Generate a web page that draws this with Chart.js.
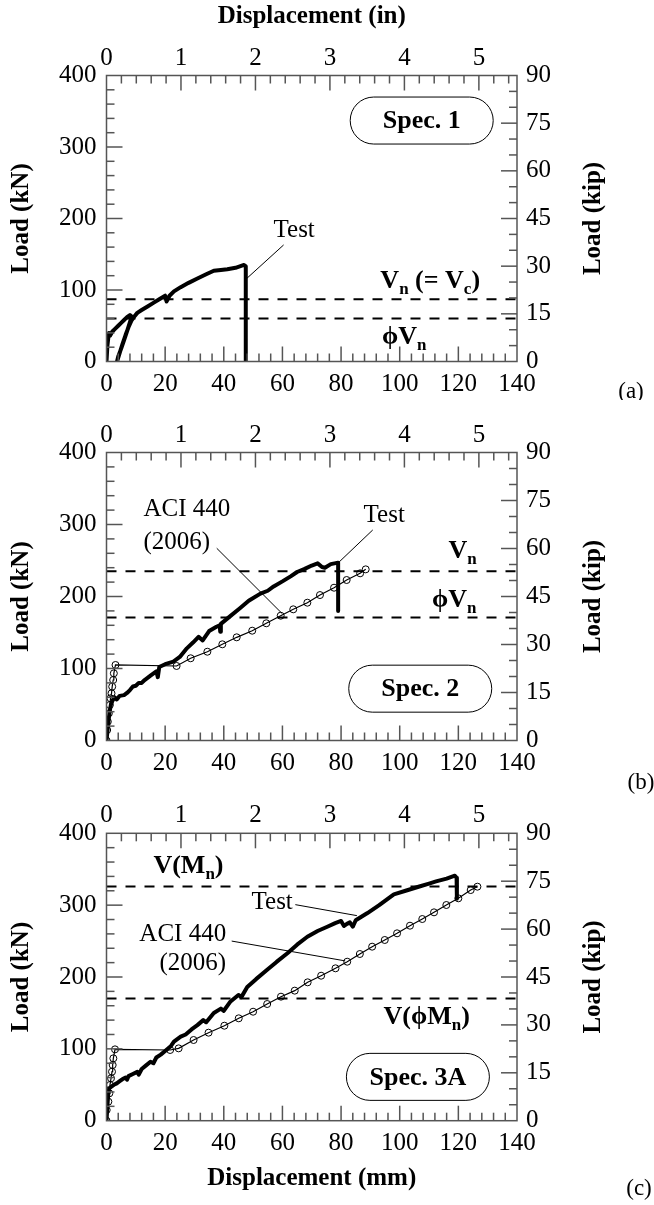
<!DOCTYPE html>
<html>
<head>
<meta charset="utf-8">
<script src="https://cdn.jsdelivr.net/npm/chart.js@4.4.1/dist/chart.umd.min.js"></script>
<style>
  body { margin: 0; background: #fff; }
  #wrap { position: relative; width: 654px; height: 1205px; }
  canvas { position: absolute; left: 0; }
</style>
</head>
<body>
<div id="wrap">
  <canvas id="chartA" width="654" height="400" style="top:0"></canvas>
  <canvas id="chartB" width="654" height="400" style="top:400px"></canvas>
  <canvas id="chartC" width="654" height="405" style="top:800px"></canvas>
</div>
<script>
// axis ranges / tick steps
const mmRange = [0, 140];
const knRange = [0, 400];
const kipRange = [0, 90];
const MM_PER_IN = 25.4;

// (a) Spec. 1
const aTestX = [0, 0.3, 0.8, 1.2, 2, 3, 4, 5, 6, 7, 8, 8.6, 8, 7, 6, 5, 4, 3.6, 4.5, 5.5, 6.5, 7.5, 8.5, 9.5, 10.5, 12, 14, 16, 18, 20, 20.5, 21.5, 23, 25.3, 28, 31, 34, 36.6, 39, 41.2, 44, 46.9, 47.5, 47.5];
const aTestY = [0, 22, 40, 36, 42, 46, 50, 54, 58, 62, 65, 63, 55, 42, 30, 18, 7, 0, 12, 25, 37, 48, 57, 63, 68, 72, 77, 82, 87, 92, 84, 92, 98, 104, 110, 116, 122, 127, 128, 129, 131, 135, 133, 0];
const aLevels = [87, 60];

// (b) Spec. 2
const bTestX = [0, 0.5, 1, 1.5, 2, 2.7, 3.5, 4.5, 6, 7, 8, 9, 10, 11, 12, 13, 15, 17, 17.5, 18, 20, 22.8, 25, 27.4, 29.5, 31.4, 32.8, 35, 37.5, 38.6, 38.8, 39, 42, 45.6, 48.5, 52.5, 55, 57, 60, 62.8, 65, 67.4, 70, 72, 73.5, 74.5, 76.5, 79, 79];
const bTestY = [0, 20, 38, 50, 55, 60, 57, 62, 63, 66, 70, 75, 76, 80, 80, 84, 90, 96, 88, 102, 106, 109.5, 116, 128, 136, 144, 139, 152, 158, 160, 151, 162, 172, 184, 194, 204, 208, 214, 221, 228, 234, 238, 243, 246, 241, 240, 245, 247, 180];
const bAciX = [0, 0.23, 0.45, 0.8, 1.14, 1.37, 1.71, 1.94, 2.28, 2.5, 3.07, 23.9, 28.7, 34.4, 39.5, 44.4, 49.7, 54.5, 59.4, 63.7, 68.5, 72.8, 77.6, 81.9, 86.5, 88.4];
const bAciY = [0, 14.6, 26.2, 37.7, 49.3, 58.6, 65.5, 74.8, 84, 93.3, 104.9, 103.5, 114.2, 123.3, 133.6, 143.3, 152.5, 162.8, 173.3, 182.2, 191.4, 202, 212.2, 222.9, 232.2, 237.7];
const bLevels = [235, 171];

// (c) Spec. 3A
const cTestX = [0, 0.3, 0.6, 0.9, 1.5, 2.5, 3.5, 4.5, 5.5, 6.5, 7, 7.5, 9, 10.5, 11, 12, 13.5, 15, 16, 17, 18.5, 20, 22, 23, 25.3, 27, 29, 31, 33, 34, 36.6, 39, 40, 42.3, 45, 46, 48, 51, 54.8, 58, 61.7, 65, 68.5, 72, 75.3, 78, 80, 81, 82, 83, 84, 85, 89, 93, 98, 102, 106.7, 110, 112.4, 116, 118.8, 119.4, 119.5];
const cTestY = [0, 20, 38, 45, 47, 50, 52, 55, 58, 60, 57, 62, 65, 68, 64, 72, 77, 82, 80, 88, 92, 97, 104, 110, 117, 120, 127, 133, 140, 137, 150, 156, 153, 166, 175, 172, 186, 197, 210, 221, 233, 245, 256, 264, 270, 275, 278, 271, 274, 276, 270, 279, 289, 300, 315, 320, 326, 330, 333, 337, 341, 338, 309];
const cAciX = [0, 0.06, 0.63, 0.97, 1.19, 1.54, 1.88, 2.1, 2.33, 2.9, 21.7, 24.6, 29.7, 34.8, 40.2, 45.1, 50, 54.8, 59.5, 64.2, 68.6, 73.2, 78.1, 82.1, 86.4, 90.6, 94.9, 99.1, 103.5, 107.7, 111.7, 115.9, 120, 124.2, 126.5];
const cAciY = [0, 14.9, 26.5, 38.1, 49.7, 59, 68.2, 77.5, 86.8, 99.3, 98.4, 100.7, 112.3, 122.5, 132.2, 142.5, 151.7, 162.4, 172.6, 181, 192.6, 201.8, 212.1, 221.3, 232, 242.2, 251.5, 260.8, 271.4, 280.7, 290, 300.2, 309.5, 321, 325.7];
const cLevels = [326, 170];

const SERIF = '"Liberation Serif", "Times New Roman", Times, serif';

const pts = (xs, ys) => xs.map((x, i) => ({ x: x, y: ys[i] }));

const testSet = (xs, ys) => ({
    data: pts(xs, ys), showLine: true, borderColor: '#000', borderWidth: 4,
    pointRadius: 0, borderJoinStyle: 'round', borderCapStyle: 'round', order: 1
});
const aciSet = (xs, ys) => ({
    data: pts(xs, ys), showLine: true, borderColor: '#000', borderWidth: 1.2,
    pointRadius: 3.5, pointBorderWidth: 1, pointBorderColor: '#000',
    pointBackgroundColor: 'rgba(0,0,0,0)', order: 2
});
const levelSet = (v) => ({
    data: [{ x: mmRange[0], y: v }, { x: mmRange[1], y: v }], showLine: true,
    borderColor: '#000', borderWidth: 2, borderDash: [10, 9], pointRadius: 0, order: 3
});
const leaderSet = (p) => ({
    data: [{ x: p[0], y: p[1] }, { x: p[2], y: p[3] }], showLine: true,
    borderColor: '#000', borderWidth: 1, pointRadius: 0, order: 4
});

function drawRich(ctx, x, y, parts) {
    let cx = x;
    ctx.textAlign = 'left';
    ctx.textBaseline = 'alphabetic';
    parts.forEach(([t, sub]) => {
        ctx.font = `bold ${sub ? 17 : 26}px ${SERIF}`;
        ctx.fillText(t, cx, sub ? y + 6 : y);
        cx += ctx.measureText(t).width;
    });
}

const decor = {
    id: 'decor',
    afterDatasetsDraw(chart) {
        const { ctx, chartArea: a, scales } = chart;
        const n = chart.options.plugins.decor;
        const sx = scales.x, sy = scales.y;
        ctx.save();

        // frame + inward ticks
        ctx.strokeStyle = '#555';
        ctx.lineWidth = 1.5;
        ctx.strokeRect(a.left, a.top, a.right - a.left, a.bottom - a.top);
        const line = (x1, y1, x2, y2) => { ctx.beginPath(); ctx.moveTo(x1, y1); ctx.lineTo(x2, y2); ctx.stroke(); };
        for (let v = 4; v < mmRange[1]; v += 4) {
            const px = sx.getPixelForValue(v);
            line(px, a.bottom, px, a.bottom - (v % 20 === 0 ? 15 : 8));
        }
        for (let i = 1; i * 0.2 < mmRange[1] / MM_PER_IN; i++) {
            const px = scales.x2.getPixelForValue(i * 0.2);
            line(px, a.top, px, a.top + (i % 5 === 0 ? 15 : 8));
        }
        for (let v = 20; v < knRange[1]; v += 20) {
            const py = sy.getPixelForValue(v);
            line(a.left, py, a.left + (v % 100 === 0 ? 16 : 8), py);
        }
        for (let v = 5; v < kipRange[1]; v += 5) {
            const py = scales.y2.getPixelForValue(v);
            line(a.right, py, a.right - (v % 15 === 0 ? 16 : 8), py);
        }

        // right axis title (reads bottom to top)
        ctx.fillStyle = '#000';
        ctx.save();
        ctx.translate(594, (a.top + a.bottom) / 2);
        ctx.rotate(-Math.PI / 2);
        ctx.font = `bold 25px ${SERIF}`;
        ctx.textAlign = 'center';
        ctx.textBaseline = 'middle';
        ctx.fillText('Load (kip)', 0, 0);
        ctx.restore();

        // specimen box
        const b = n.box;
        const bx = sx.getPixelForValue(b.x), by = sy.getPixelForValue(b.y);
        const w = 143, h = 47, r = h / 2;
        ctx.beginPath();
        ctx.moveTo(bx - w / 2 + r, by - r);
        ctx.lineTo(bx + w / 2 - r, by - r);
        ctx.arc(bx + w / 2 - r, by, r, -Math.PI / 2, Math.PI / 2);
        ctx.lineTo(bx - w / 2 + r, by + r);
        ctx.arc(bx - w / 2 + r, by, r, Math.PI / 2, Math.PI * 1.5);
        ctx.closePath();
        ctx.fillStyle = '#fff';
        ctx.fill();
        ctx.strokeStyle = '#000';
        ctx.lineWidth = 1;
        ctx.stroke();
        ctx.fillStyle = '#000';
        ctx.font = `bold 26px ${SERIF}`;
        ctx.textAlign = 'center';
        ctx.textBaseline = 'middle';
        ctx.fillText(b.text, bx, by + 1);

        // plain labels
        ctx.font = `25px ${SERIF}`;
        n.plain.forEach(p => {
            ctx.textAlign = p.align || 'center';
            ctx.textBaseline = 'middle';
            ctx.fillText(p.text, sx.getPixelForValue(p.x), sy.getPixelForValue(p.y));
        });

        // level labels with subscripts
        n.rich.forEach(p => drawRich(ctx, sx.getPixelForValue(p.x), sy.getPixelForValue(p.y), p.parts));

        // panel tag
        ctx.font = `23px ${SERIF}`;
        ctx.textAlign = 'center';
        ctx.textBaseline = 'middle';
        ctx.fillText(n.tag.text, n.tag.px, n.tag.py);
        ctx.restore();
    }
};

const tickFont = { family: SERIF, size: 25, lineHeight: 1 };
const titleFont = { family: SERIF, size: 25, weight: 'bold', lineHeight: 1 };

function makePanel(id, p) {
    return new Chart(document.getElementById(id), {
        type: 'scatter',
        data: { datasets: p.datasets },
        options: {
            responsive: false,
            animation: false,
            devicePixelRatio: 1,
            layout: { padding: { left: 0, right: 43, top: 0, bottom: 0 } },
            plugins: { legend: { display: false }, tooltip: { enabled: false }, decor: p.notes },
            scales: {
                x: {
                    type: 'linear', position: 'bottom', min: mmRange[0], max: mmRange[1],
                    grid: { display: false, drawTicks: false }, border: { display: false },
                    ticks: { stepSize: 20, font: tickFont, color: '#000', padding: 10, includeBounds: false, maxRotation: 0 },
                    title: { display: !!p.bottomTitle, text: p.bottomTitle || '', font: titleFont, color: '#000', padding: { top: 0, bottom: 14 } },
                    afterFit: s => { s.height = p.bottomH; }
                },
                x2: {
                    type: 'linear', position: 'top', min: mmRange[0] / MM_PER_IN, max: mmRange[1] / MM_PER_IN,
                    grid: { display: false, drawTicks: false }, border: { display: false },
                    ticks: { stepSize: 1, font: tickFont, color: '#000', padding: 5, includeBounds: false, maxRotation: 0 },
                    title: { display: !!p.topTitle, text: p.topTitle || '', font: titleFont, color: '#000', padding: { top: 4, bottom: 0 } },
                    afterFit: s => { s.height = p.topH; }
                },
                y: {
                    type: 'linear', position: 'left', min: knRange[0], max: knRange[1],
                    grid: { display: false, drawTicks: false }, border: { display: false },
                    ticks: { stepSize: 100, font: tickFont, color: '#000', padding: 10 },
                    title: { display: true, text: 'Load (kN)', font: titleFont, color: '#000', padding: { top: 9, bottom: 0 } },
                    afterFit: s => { s.width = 106.5; }
                },
                y2: {
                    type: 'linear', position: 'right', min: kipRange[0], max: kipRange[1],
                    grid: { display: false, drawTicks: false }, border: { display: false },
                    ticks: { stepSize: 15, font: tickFont, color: '#000', padding: 9 },
                    afterFit: s => { s.width = 94; }
                }
            }
        },
        plugins: [decor]
    });
}

makePanel('chartA', {
    topH: 75.5, bottomH: 38.5, topTitle: 'Displacement (in)',
    datasets: [
        testSet(aTestX, aTestY),
        levelSet(aLevels[0]), levelSet(aLevels[1]),
        leaderSet([60.4, 163, 47.9, 116.4])
    ],
    notes: {
        box: { x: 107.5, y: 337, text: 'Spec. 1' },
        plain: [{ text: 'Test', x: 64, y: 184 }],
        rich: [
            { x: 93.4, y: 102.4, parts: [['V'], ['n', true], [' (= V'], ['c', true], [')']] },
            { x: 94, y: 24, parts: [['\u03D5V'], ['n', true]] }
        ],
        tag: { text: '(a)', px: 631, py: 392 }
    }
});

makePanel('chartB', {
    topH: 52.5, bottomH: 59.5,
    datasets: [
        testSet(bTestX, bTestY),
        aciSet(bAciX, bAciY),
        levelSet(bLevels[0]), levelSet(bLevels[1]),
        leaderSet([90.8, 292.4, 79.1, 247]),
        leaderSet([37.6, 267, 59.8, 176.7])
    ],
    notes: {
        box: { x: 107, y: 72, text: 'Spec. 2' },
        plain: [
            { text: 'Test', x: 94.7, y: 313 },
            { text: 'ACI 440', x: 12.6, y: 321.5, align: 'left' },
            { text: '(2006)', x: 12.6, y: 275.7, align: 'left' }
        ],
        rich: [
            { x: 116.6, y: 253, parts: [['V'], ['n', true]] },
            { x: 111, y: 185.8, parts: [['\u03D5V'], ['n', true]] }
        ],
        tag: { text: '(b)', px: 641, py: 383 }
    }
});

makePanel('chartC', {
    topH: 33.3, bottomH: 84.3, bottomTitle: 'Displacement (mm)',
    datasets: [
        testSet(cTestX, cTestY),
        aciSet(cAciX, cAciY),
        levelSet(cLevels[0]), levelSet(cLevels[1]),
        leaderSet([64.4, 300.7, 85.4, 285.4]),
        leaderSet([42.7, 250, 81.4, 222.4])
    ],
    notes: {
        box: { x: 106.2, y: 61, text: 'Spec. 3A' },
        plain: [
            { text: 'Test', x: 56.5, y: 303.7 },
            { text: 'ACI 440', x: 40.8, y: 259.8, align: 'right' },
            { text: '(2006)', x: 40.8, y: 219.5, align: 'right' }
        ],
        rich: [
            { x: 16, y: 344.3, parts: [['V(M'], ['n', true], [')']] },
            { x: 94.5, y: 134.2, parts: [['V(\u03D5M'], ['n', true], [')']] }
        ],
        tag: { text: '(c)', px: 639, py: 389 }
    }
});
</script>
</body>
</html>
